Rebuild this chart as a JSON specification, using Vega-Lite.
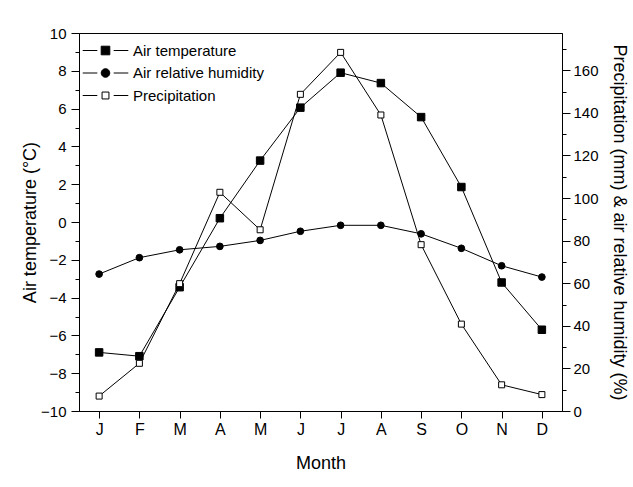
{
  "$schema": "https://vega.github.io/schema/vega-lite/v6.json",
  "width": 483,
  "height": 378,
  "autosize": {"type": "none"},
  "padding": {"left": 79, "top": 33, "right": 71, "bottom": 76},
  "background": "white",
  "config": {
    "view": {"stroke": "black", "strokeWidth": 1},
    "font": "Liberation Sans",
    "axis": {
      "domainColor": "black", "tickColor": "black", "labelColor": "black", "titleColor": "black",
      "grid": false, "labelFont": "Liberation Sans", "titleFont": "Liberation Sans",
      "titleFontWeight": "normal", "labelFontSize": 15, "titleFontSize": 18, "domainWidth": 1, "tickWidth": 1
    },
    "legend": {"labelFont": "Liberation Sans", "labelFontSize": 15, "labelColor": "black"}
  },
  "data": {
    "values": [
      {"month": "Jan", "series": "Air temperature", "value": -6.9},
      {"month": "Feb", "series": "Air temperature", "value": -7.1},
      {"month": "Mar", "series": "Air temperature", "value": -3.45},
      {"month": "Apr", "series": "Air temperature", "value": 0.2},
      {"month": "May", "series": "Air temperature", "value": 3.25},
      {"month": "Jun", "series": "Air temperature", "value": 6.05},
      {"month": "Jul", "series": "Air temperature", "value": 7.9},
      {"month": "Aug", "series": "Air temperature", "value": 7.35},
      {"month": "Sep", "series": "Air temperature", "value": 5.55},
      {"month": "Oct", "series": "Air temperature", "value": 1.85},
      {"month": "Nov", "series": "Air temperature", "value": -3.2},
      {"month": "Dec", "series": "Air temperature", "value": -5.7},
      {"month": "Jan", "series": "Air relative humidity", "value": 64.3},
      {"month": "Feb", "series": "Air relative humidity", "value": 72.0},
      {"month": "Mar", "series": "Air relative humidity", "value": 75.7},
      {"month": "Apr", "series": "Air relative humidity", "value": 77.3},
      {"month": "May", "series": "Air relative humidity", "value": 80.1},
      {"month": "Jun", "series": "Air relative humidity", "value": 84.4},
      {"month": "Jul", "series": "Air relative humidity", "value": 87.2},
      {"month": "Aug", "series": "Air relative humidity", "value": 87.2},
      {"month": "Sep", "series": "Air relative humidity", "value": 83.2},
      {"month": "Oct", "series": "Air relative humidity", "value": 76.4},
      {"month": "Nov", "series": "Air relative humidity", "value": 68.2},
      {"month": "Dec", "series": "Air relative humidity", "value": 62.9},
      {"month": "Jan", "series": "Precipitation", "value": 7.0},
      {"month": "Feb", "series": "Precipitation", "value": 22.4},
      {"month": "Mar", "series": "Precipitation", "value": 59.8},
      {"month": "Apr", "series": "Precipitation", "value": 102.7},
      {"month": "May", "series": "Precipitation", "value": 85.1},
      {"month": "Jun", "series": "Precipitation", "value": 148.7},
      {"month": "Jul", "series": "Precipitation", "value": 168.4},
      {"month": "Aug", "series": "Precipitation", "value": 139.0},
      {"month": "Sep", "series": "Precipitation", "value": 78.1},
      {"month": "Oct", "series": "Precipitation", "value": 40.8},
      {"month": "Nov", "series": "Precipitation", "value": 12.3},
      {"month": "Dec", "series": "Precipitation", "value": 7.7}
    ]
  },
  "encoding": {
    "x": {
      "field": "month", "type": "ordinal",
      "scale": {"type": "point", "padding": 0.5, "domain": ["Jan","Feb","Mar","Apr","May","Jun","Jul","Aug","Sep","Oct","Nov","Dec"]},
      "axis": {"title": "Month", "labelAngle": 0, "labelExpr": "substring(datum.label, 0, 1)", "labelFontSize": 16, "tickSize": 7, "labelPadding": 3, "titlePadding": 17}
    }
  },
  "layer": [
    {
      "transform": [{"filter": "datum.series === 'Air temperature'"}],
      "encoding": {
        "y": {
          "field": "value", "type": "quantitative",
          "scale": {"domain": [-10, 10], "nice": false, "zero": false},
          "axis": {
            "title": "Air temperature (°C)", "orient": "left",
            "values": [-10,-9,-8,-7,-6,-5,-4,-3,-2,-1,0,1,2,3,4,5,6,7,8,9,10],
            "labelExpr": "datum.value % 2 === 0 ? datum.label : ''",
            "tickSize": {"condition": {"test": "datum.value % 2 !== 0", "value": 4}, "value": 8},
            "labelPadding": 5, "titlePadding": 1
          }
        }
      },
      "layer": [
        {"mark": {"type": "line", "color": "black", "strokeWidth": 1}},
        {"mark": {"type": "point", "shape": "square", "filled": true, "fill": "black", "stroke": "black", "strokeWidth": 1, "size": 56, "opacity": 1}},
        {
          "mark": {"type": "point", "filled": true, "strokeWidth": 1, "opacity": 0},
          "encoding": {
            "fill": {"field": "series", "type": "nominal", "scale": {"domain": ["Air temperature", "Air relative humidity", "Precipitation"], "range": ["black", "black", "white"]},
              "legend": {
                "title": null, "orient": "none", "legendX": 19, "legendY": 10, "padding": 0,
                "symbolSize": 74, "symbolOpacity": 1, "symbolStrokeWidth": 1, "labelOffset": 20, "rowPadding": 6.5
              }
            },
            "stroke": {"field": "series", "type": "nominal", "scale": {"domain": ["Air temperature", "Air relative humidity", "Precipitation"], "range": ["black", "black", "black"]},
              "legend": {
                "title": null, "orient": "none", "legendX": 19, "legendY": 10, "padding": 0,
                "symbolSize": 74, "symbolOpacity": 1, "symbolStrokeWidth": 1, "labelOffset": 20, "rowPadding": 6.5
              }
            },
            "shape": {"field": "series", "type": "nominal", "scale": {"domain": ["Air temperature", "Air relative humidity", "Precipitation"], "range": ["M-5.3,0H-1.9M1.9,0H5.3M-1,-1H1V1H-1Z", "M-5.3,0H-1.9M1.9,0H5.3M-1,0A1,1 0 1,0 1,0A1,1 0 1,0 -1,0Z", "M-5.3,0H-1.9M1.9,0H5.3M-0.8,-0.8H0.8V0.8H-0.8Z"]},
              "legend": {
                "title": null, "orient": "none", "legendX": 19, "legendY": 10, "padding": 0,
                "symbolSize": 74, "symbolOpacity": 1, "symbolStrokeWidth": 1, "labelOffset": 20, "rowPadding": 6.5
              }
            }
          }
        }
      ]
    },
    {
      "transform": [{"filter": "datum.series !== 'Air temperature'"}],
      "encoding": {
        "y": {
          "field": "value", "type": "quantitative",
          "scale": {"domain": [0, 177.5], "nice": false, "zero": false},
          "axis": {
            "title": "Precipitation (mm) & air relative humidity (%)", "orient": "right",
            "values": [0,10,20,30,40,50,60,70,80,90,100,110,120,130,140,150,160,170],
            "labelExpr": "datum.value % 20 === 0 ? datum.label : ''",
            "tickSize": {"condition": {"test": "datum.value % 20 !== 0", "value": 4}, "value": 8},
            "labelPadding": 3, "titlePadding": 11
          }
        }
      },
      "layer": [
        {"mark": {"type": "line", "color": "black", "strokeWidth": 1}, "encoding": {"detail": {"field": "series", "type": "nominal"}}},
        {
          "transform": [{"filter": "datum.series === 'Air relative humidity'"}],
          "mark": {"type": "point", "shape": "circle", "filled": true, "fill": "black", "stroke": "black", "strokeWidth": 1, "size": 45, "opacity": 1}
        },
        {
          "transform": [{"filter": "datum.series === 'Precipitation'"}],
          "mark": {"type": "point", "shape": "square", "filled": true, "fill": "white", "stroke": "black", "strokeWidth": 1, "size": 36, "opacity": 1}
        }
      ]
    }
  ],
  "resolve": {"scale": {"y": "independent"}}
}
